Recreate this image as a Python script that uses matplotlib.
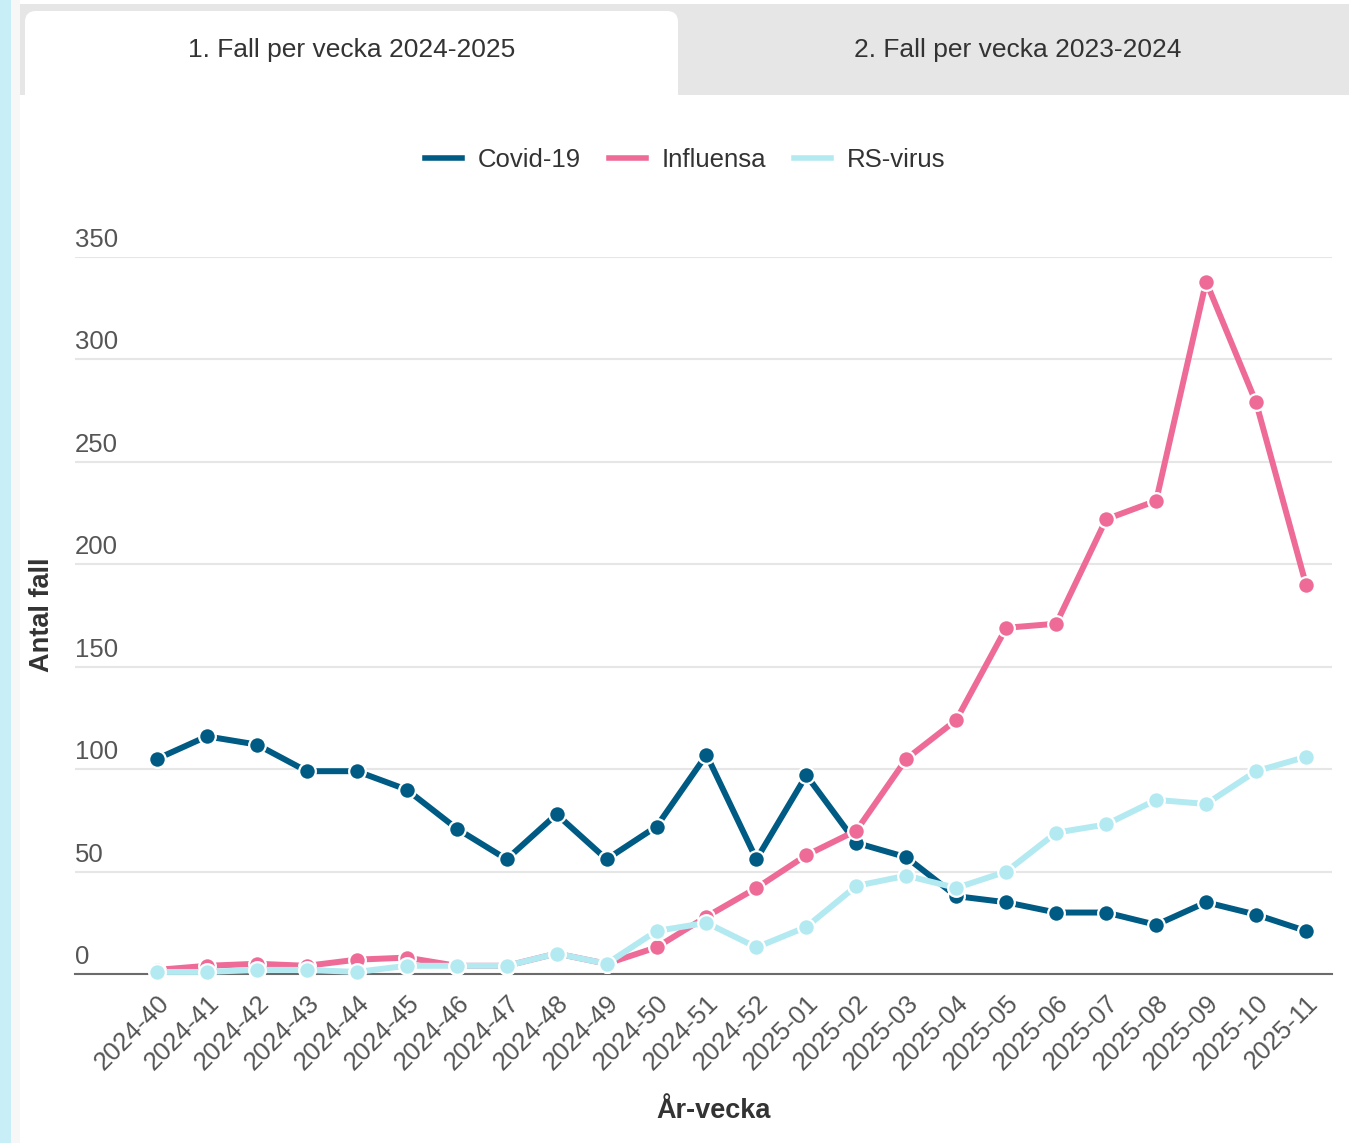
import matplotlib
matplotlib.use("Agg")
import matplotlib.pyplot as plt
from matplotlib.patches import Rectangle, FancyBboxPatch
from matplotlib.lines import Line2D
import matplotlib.transforms as mtransforms

plt.rcParams['font.family'] = ['Liberation Sans', 'DejaVu Sans']

weeks = ["2024-40", "2024-41", "2024-42", "2024-43", "2024-44", "2024-45", "2024-46",
         "2024-47", "2024-48", "2024-49", "2024-50", "2024-51", "2024-52", "2025-01",
         "2025-02", "2025-03", "2025-04", "2025-05", "2025-06", "2025-07", "2025-08",
         "2025-09", "2025-10", "2025-11"]
covid = [105, 116, 112, 99, 99, 90, 71, 56, 78, 56, 72, 107, 56, 97,
         64, 57, 38, 35, 30, 30, 24, 35, 29, 21]
influensa = [2, 4, 5, 4, 7, 8, 4, 4, 10, 5, 13, 28, 42, 58,
             70, 105, 124, 169, 171, 222, 231, 338, 279, 190]
rsv = [1, 1, 2, 2, 1, 4, 4, 4, 10, 5, 21, 25, 13, 23,
       43, 48, 42, 50, 69, 73, 85, 83, 99, 106]
series_names = ["Covid-19", "Influensa", "RS-virus"]
series_colors = ["#005b84", "#ee6b97", "#b3eaf1"]
y_ticks = [0, 50, 100, 150, 200, 250, 300, 350]
tab_labels = ["1. Fall per vecka 2024-2025", "2. Fall per vecka 2023-2024"]

W, H = 1349, 1143
fig = plt.figure(figsize=(W / 100, H / 100), dpi=100)
fig.patch.set_facecolor("white")


def fx(x):
    return x / W


def fy(y):
    return 1 - y / H


bg = dict(transform=fig.transFigure, edgecolor="none", zorder=-10)
# left light-blue strip
fig.add_artist(Rectangle((0, 0), fx(11), 1, facecolor="#c8eff8", **bg))
fig.add_artist(Rectangle((fx(11), 0), fx(9), 1, facecolor="#f7f7f7", **bg))
# tab bar
fig.add_artist(Rectangle((fx(20), fy(95)), fx(1329), fy(4) - fy(95),
                         facecolor="#e6e6e6", **bg))
# active tab (rounded)
fig.add_artist(FancyBboxPatch((fx(25), fy(110)), fx(653), fy(11) - fy(110),
                              boxstyle="round,pad=0,rounding_size=0.008",
                              facecolor="white", mutation_aspect=W / H, **bg))
fig.add_artist(Rectangle((fx(20), fy(1143)), fx(1329), fy(95) - fy(1143),
                         facecolor="white", **bg))
fig.text(fx(352), fy(50), tab_labels[0], ha="center", va="center",
         fontsize=19, color="#333333")
fig.text(fx(1018), fy(50), tab_labels[1], ha="center", va="center",
         fontsize=19, color="#333333")

ax = fig.add_axes([fx(75), fy(974), fx(1332) - fx(75), fy(257) - fy(974)])
ax.set_facecolor("none")
x = list(range(len(weeks)))
for vals, name, col, z in zip([covid, influensa, rsv], series_names,
                              series_colors, [3, 4, 5]):
    ax.plot(x, vals, color=col, lw=4.3, marker="o", markersize=12,
            markerfacecolor=col, markeredgecolor="white", markeredgewidth=1.6,
            zorder=z, solid_joinstyle="round", label=name, clip_on=False)

ax.set_xlim(-1.64, 23.52)
ax.set_ylim(0, 350)
ax.set_yticks(y_ticks)
ax.set_yticklabels([])
ax.tick_params(axis="y", length=0)
ax.grid(axis="y", color="#e6e6e6", lw=1.5, zorder=0)
ax.set_axisbelow(True)
for s in ["top", "right", "left"]:
    ax.spines[s].set_visible(False)
ax.spines["bottom"].set_color("#6b6b6b")
ax.spines["bottom"].set_linewidth(1.5)
ax.spines["bottom"].set_zorder(2)

trans = mtransforms.blended_transform_factory(ax.transAxes, ax.transData)
offset = mtransforms.ScaledTranslation(0, 5 / 100, fig.dpi_scale_trans)
for t in y_ticks:
    ax.text(0, t, str(t), transform=trans + offset, ha="left", va="bottom",
            fontsize=18.5, color="#555555")

ax.set_xticks(x)
ax.set_xticklabels(weeks, rotation=45, ha="right", va="top",
                   rotation_mode="anchor", fontsize=18.5, color="#555555")
ax.tick_params(axis="x", length=0, pad=12)

fig.text(fx(714), fy(1111), "År-vecka", ha="center", va="center",
         fontsize=19.5, fontweight="bold", color="#333333")
fig.text(fx(42), fy(615), "Antal fall", ha="center", va="center",
         rotation=90, fontsize=19.5, fontweight="bold", color="#333333")

handles = [Line2D([], [], color=c, lw=4) for c in series_colors]
fig.legend(handles, series_names, loc="center", bbox_to_anchor=(fx(685), fy(160)),
           ncol=3, frameon=False, fontsize=18.5, handlelength=1.45,
           handletextpad=0.6, columnspacing=1.1, labelcolor="#333333")

fig.savefig("out.png", dpi=100)
